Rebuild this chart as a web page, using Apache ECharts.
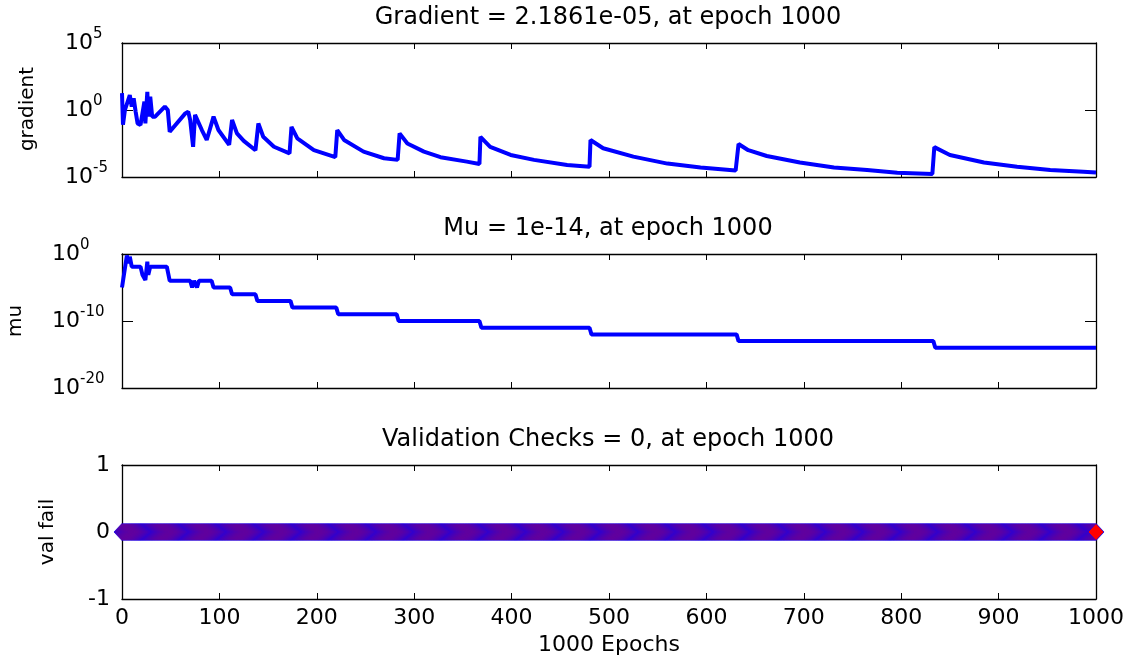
<!DOCTYPE html>
<html>
<head>
<meta charset="utf-8">
<script src="https://cdn.jsdelivr.net/npm/echarts@6/dist/echarts.min.js"></script>
<style>
html,body{margin:0;padding:0;background:#fff;}
#chart{width:1136px;height:663px;}
</style>
</head>
<body>
<div id="chart"></div>
<script>
// ---- data ----
const gradEpochs = [0,1,3,8,10,12,14,16,19,23,24,26,27,29,31,34,44,47,49,65,68,70,73,75,82,87,94,99,110,113,118,125,137,139,140,145,156,172,174,180,197,219,221,228,248,269,283,285,293,310,327,354,367,368,378,399,423,457,480,481,494,525,560,594,630,633,643,662,696,731,765,796,832,834,850,885,919,953,987,1000];
const gradValues = [1.8e1,7.9e-2,1.0,1.3e1,1.8,7.4,7.6e-1,1.0e-1,7.6e-2,4.2,1.0e-1,2.3e1,3.2e-1,1.0e1,3.2e-1,3.2e-1,1.8,1.0,2.4e-2,5.6e-1,7.6e-1,1.8e-1,1.8e-3,4.3e-1,3.2e-2,5.8e-3,3.2e-1,3.2e-2,2.5e-3,1.8e-1,1.8e-2,5.0e-3,1.0e-3,1.0e-3,1.0e-1,1.0e-2,1.8e-3,5.8e-4,5.6e-2,7.6e-3,1.0e-3,3.0e-4,3.2e-2,5.8e-3,7.8e-4,2.5e-4,1.9e-4,1.8e-2,3.2e-3,7.8e-4,3.0e-4,1.4e-4,9.3e-5,1.0e-2,1.8e-3,4.4e-4,1.9e-4,7.9e-5,5.9e-5,5.8e-3,1.4e-3,3.3e-4,1.0e-4,5.2e-5,3.0e-5,2.9e-3,1.0e-3,3.7e-4,1.2e-4,5.2e-5,3.3e-5,2.1e-5,1.7e-5,1.7e-3,4.4e-4,1.2e-4,5.9e-5,3.3e-5,2.5e-5,2.1861e-5];

const muEpochs = [0,5,7,8,10,19,21,24,26,27,29,46,49,70,72,74,77,79,92,94,111,113,137,139,173,175,220,222,282,284,367,369,480,482,631,633,833,835,1000];
const muValues = [1e-5,6e-1,4e-2,4e-1,1.3e-2,1.3e-2,8e-4,1.3e-4,7e-2,8e-4,1.3e-2,1.3e-2,1e-4,1e-4,1e-5,1e-4,1e-5,1e-4,1e-4,1e-5,1e-5,1e-6,1e-6,1e-7,1e-7,1e-8,1e-8,1e-9,1e-9,1e-10,1e-10,1e-11,1e-11,1e-12,1e-12,1e-13,1e-13,1e-14,1e-14];

// validation failures: every epoch 0..1000 reads as 0
const valEpochCount = 1001;
const valFailValue = 0;
const valFail = Array.from({length: valEpochCount}, (_, i) => [i, valFailValue]);

const titles = ['Gradient = 2.1861e-05, at epoch 1000', 'Mu = 1e-14, at epoch 1000', 'Validation Checks = 0, at epoch 1000'];
const yNames = ['gradient', 'mu', 'val fail'];
const xName = '1000 Epochs';

// ---- chart ----
const FONT = 'DejaVu Sans';
const L = 122, W = 974, H = 134;
const tops = [43, 254, 465];

const chart = echarts.init(document.getElementById('chart'), null, {renderer: 'canvas'});

const lineCol = '#000';
function xAx(grid, pos, labels) {
  return {
    type: 'value', gridIndex: grid, position: pos, min: 0, max: 1000, interval: 100,
    axisLine: {show: true, onZero: false, lineStyle: {color: lineCol, width: 1.3}},
    axisTick: {show: true, inside: true, length: 6, lineStyle: {color: lineCol, width: 1}},
    axisLabel: {show: labels, color: '#000', fontFamily: FONT, fontSize: 22, margin: 8,
                formatter: v => String(v)},
    splitLine: {show: false}
  };
}
function logLabel(v) {
  const e = Math.round(Math.log10(v));
  return '{b|10}{s|' + e + '}';
}
const rich = {
  b: {fontSize: 22, fontFamily: FONT, color: '#000', lineHeight: 32, verticalAlign: 'middle'},
  s: {fontSize: 15, fontFamily: FONT, color: '#000', lineHeight: 15, verticalAlign: 'top'}
};
function yAx(grid, pos, labels, cfg) {
  const a = Object.assign({
    gridIndex: grid, position: pos,
    axisLine: {show: true, onZero: false, lineStyle: {color: lineCol, width: 1.3}},
    axisTick: {show: true, inside: true, length: 11, lineStyle: {color: lineCol, width: 1}},
    splitLine: {show: false}
  }, cfg);
  a.axisLabel = Object.assign({show: labels}, cfg.axisLabel || {});
  if (!labels) a.axisLabel = {show: false};
  return a;
}
const yCfg = [
  {type: 'log', logBase: 10, min: 1e-5, max: 1e5, interval: 5,
   axisLabel: {formatter: logLabel, rich: rich, align: 'left', margin: 57}},
  {type: 'log', logBase: 10, min: 1e-20, max: 1, interval: 10,
   axisLabel: {formatter: logLabel, rich: rich, align: 'left', margin: 70}},
  {type: 'value', min: -1, max: 1, interval: 1,
   axisLabel: {color: '#000', fontFamily: FONT, fontSize: 22, margin: 12}}
];

const grids = tops.map(t => ({left: L, top: t, width: W, height: H}));
const xAxes = [], yAxes = [];
for (let g = 0; g < 3; g++) {
  xAxes.push(xAx(g, 'bottom', g === 2));
  xAxes.push(xAx(g, 'top', false));
  yAxes.push(yAx(g, 'left', true, yCfg[g]));
  yAxes.push(yAx(g, 'right', false, yCfg[g]));
}

const graphics = [];
titles.forEach((t, i) => graphics.push({
  type: 'text', x: L + W / 2 - 1, y: tops[i] - 25,
  style: {text: t, fill: '#000', font: '24px "' + FONT + '"', textAlign: 'center', textVerticalAlign: 'middle'}
}));
const yNamePos = [[28, tops[0] + H / 2 - 1], [16, tops[1] + H / 2], [48, tops[2] + H / 2]];
yNames.forEach((t, i) => graphics.push({
  type: 'text', x: yNamePos[i][0], y: yNamePos[i][1], rotation: Math.PI / 2,
  style: {text: t, fill: '#000', font: '20px "' + FONT + '"', textAlign: 'center', textVerticalAlign: 'middle'}
}));
graphics.push({
  type: 'text', x: L + W / 2, y: 645,
  style: {text: xName, fill: '#000', font: '22px "' + FONT + '"', textAlign: 'center', textVerticalAlign: 'middle'}
});

chart.setOption({
  animation: false,
  backgroundColor: '#fff',
  grid: grids,
  xAxis: xAxes,
  yAxis: yAxes,
  graphic: graphics,
  series: [
    {type: 'line', xAxisIndex: 0, yAxisIndex: 0, showSymbol: false, symbol: 'none',
     data: gradEpochs.map((e, i) => [e, gradValues[i]]),
     lineStyle: {color: '#0000ff', width: 4}},
    {type: 'line', xAxisIndex: 2, yAxisIndex: 2, showSymbol: false, symbol: 'none',
     data: muEpochs.map((e, i) => [e, muValues[i]]),
     lineStyle: {color: '#0000ff', width: 4}},
    {type: 'scatter', xAxisIndex: 4, yAxisIndex: 4, symbol: 'diamond', symbolSize: [16, 17],
     data: valFail, clip: false,
     itemStyle: {color: '#ff0000', borderColor: '#0000ff', borderWidth: 0.8, opacity: 1}}
  ]
});
</script>
</body>
</html>
